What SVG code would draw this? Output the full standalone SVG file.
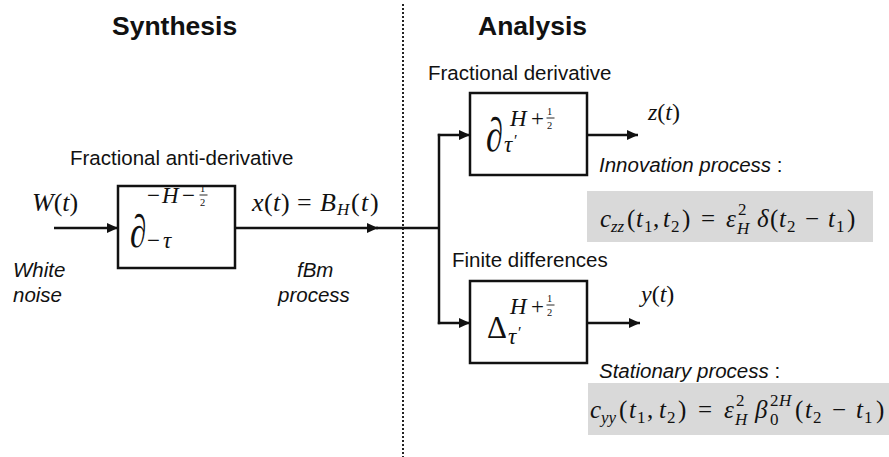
<svg xmlns="http://www.w3.org/2000/svg" width="889" height="457" viewBox="0 0 889 457">
<style>
.t{font-family:"Liberation Sans",Arial,sans-serif;font-size:20.5px;fill:#111}
.it{font-style:italic}
.h{font-family:"Liberation Sans",Arial,sans-serif;font-size:26.5px;font-weight:bold;fill:#111}
.m{font-family:"Liberation Serif","Times New Roman",serif;font-size:25px;fill:#111}
.s{font-size:23px}
.ss{font-size:17px}
.f{font-size:10.5px}
.p{font-size:16px}
.i{font-style:italic}
.box{fill:#fff;stroke:#111;stroke-width:2.5}
.gray{fill:#d9d9d9;stroke:none}
.ln{stroke:#111;stroke-width:2.5;fill:none}
.arr{stroke:#111;stroke-width:2.5;fill:none;marker-end:url(#ah)}
.bar{stroke:#111;stroke-width:0.9}
</style>
<defs>
<marker id="ah" markerUnits="userSpaceOnUse" markerWidth="11" markerHeight="10" refX="11" refY="5" orient="auto">
<path d="M0,0 L11,5 L0,10 z" fill="#111"/>
</marker>
</defs>

<g id="divider">
<line x1="403" y1="4" x2="403" y2="457" stroke="#222" stroke-width="2" stroke-dasharray="2 2"/>
</g>

<g id="titles">
<text class="h" x="112" y="35">Synthesis</text>
<text class="h" x="478" y="35">Analysis</text>
</g>

<g id="connectors">
<line class="arr" x1="54" y1="228" x2="118" y2="228"/>
<line class="arr" x1="235" y1="228" x2="378" y2="228"/>
<line class="ln" x1="376" y1="228" x2="440" y2="228"/>
<line class="ln" x1="439" y1="133.8" x2="439" y2="324.2"/>
<line class="arr" x1="437.8" y1="135" x2="470" y2="135"/>
<line class="arr" x1="437.8" y1="323" x2="470" y2="323"/>
<line class="arr" x1="587" y1="135" x2="638" y2="135"/>
<line class="arr" x1="587" y1="323" x2="640" y2="323"/>
</g>

<g id="input">
<text class="m" x="32" y="211" style="font-size:26px"><tspan class="i">W</tspan>(<tspan class="i">t</tspan>)</text>
<text class="t it" x="13" y="277">White</text>
<text class="t it" x="13" y="302">noise</text>
</g>

<g id="antiderivative">
<text class="t" x="70" y="165">Fractional anti-derivative</text>
<rect class="box" x="118" y="186" width="117" height="82"/>
<text class="m i" transform="translate(130,247) scale(1,1.4)" style="font-size:33px">∂</text>
<text class="m s"><tspan x="147" y="203">−</tspan><tspan class="i" x="162" y="203">H</tspan><tspan x="182" y="203">−</tspan></text>
<text class="m f" x="200" y="192">1</text>
<line class="bar" x1="199.5" y1="195" x2="207.5" y2="195"/>
<text class="m f" x="200" y="205.5">2</text>
<text class="m s"><tspan x="147" y="248">−</tspan><tspan class="i" x="163" y="248">τ</tspan></text>
</g>

<g id="fbm">
<text class="m" style="font-size:26px"><tspan class="i" x="252" y="211">x</tspan><tspan x="264" y="211">(</tspan><tspan class="i" x="273" y="211">t</tspan><tspan x="281" y="211">)</tspan><tspan x="297" y="211">=</tspan><tspan class="i" x="320" y="211">B</tspan><tspan class="i ss" x="337" y="215">H</tspan><tspan x="351" y="211">(</tspan><tspan class="i" x="361" y="211">t</tspan><tspan x="370" y="211">)</tspan></text>
<text class="t it" x="297" y="277">fBm</text>
<text class="t it" x="278" y="302">process</text>
</g>

<g id="derivative">
<text class="t" x="428" y="80">Fractional derivative</text>
<rect class="box" x="470" y="93" width="117" height="82"/>
<text class="m i" transform="translate(486,151) scale(1,1.4)" style="font-size:34px">∂</text>
<text class="m s"><tspan class="i" x="510" y="126">H</tspan><tspan x="531" y="126">+</tspan></text>
<text class="m f" x="547" y="115">1</text>
<line class="bar" x1="546.5" y1="118" x2="554.5" y2="118"/>
<text class="m f" x="547" y="128.5">2</text>
<text class="m s"><tspan class="i" x="504" y="152">τ</tspan><tspan class="p" x="514" y="146">′</tspan></text>
<text class="m" x="648" y="120" style="font-size:24px"><tspan class="i">z</tspan>(<tspan class="i">t</tspan>)</text>
</g>

<g id="innovation">
<text class="t" x="599" y="172"><tspan class="it">Innovation process</tspan> :</text>
<rect class="gray" x="587" y="191" width="286" height="51"/>
<text class="m"><tspan class="i" x="600" y="227">c</tspan><tspan class="i ss" x="611" y="232">zz</tspan><tspan x="627" y="227">(</tspan><tspan class="i" x="636" y="227">t</tspan><tspan class="ss" x="644" y="232">1</tspan><tspan x="653" y="227">,</tspan><tspan class="i" x="663" y="227">t</tspan><tspan class="ss" x="671" y="232">2</tspan><tspan x="682" y="227">)</tspan><tspan x="701" y="227">=</tspan><tspan class="i" x="726" y="227">ε</tspan><tspan class="ss" x="738" y="215">2</tspan><tspan class="i ss" x="737" y="234">H</tspan><tspan class="i" x="757" y="227">δ</tspan><tspan x="770" y="227">(</tspan><tspan class="i" x="779" y="227">t</tspan><tspan class="ss" x="787" y="232">2</tspan><tspan x="805" y="227">−</tspan><tspan class="i" x="828" y="227">t</tspan><tspan class="ss" x="836" y="232">1</tspan><tspan x="847" y="227">)</tspan></text>
</g>

<g id="differences">
<text class="t" x="452" y="267">Finite differences</text>
<rect class="box" x="470" y="281" width="117" height="82"/>
<text class="m" transform="translate(487,338) scale(1,1.05)" style="font-size:31px">Δ</text>
<text class="m s"><tspan class="i" x="510" y="314">H</tspan><tspan x="531" y="314">+</tspan></text>
<text class="m f" x="547" y="302">1</text>
<line class="bar" x1="546.5" y1="305" x2="554.5" y2="305"/>
<text class="m f" x="547" y="315.5">2</text>
<text class="m s"><tspan class="i" x="508" y="344">τ</tspan><tspan class="p" x="518" y="338">′</tspan></text>
<text class="m" x="641" y="302" style="font-size:24px"><tspan class="i">y</tspan>(<tspan class="i">t</tspan>)</text>
</g>

<g id="stationary">
<text class="t" x="599" y="378"><tspan class="it">Stationary process</tspan> :</text>
<rect class="gray" x="588" y="383" width="301" height="52"/>
<text class="m"><tspan class="i" x="590" y="418">c</tspan><tspan class="i ss" x="601" y="423">yy</tspan><tspan x="619" y="418">(</tspan><tspan class="i" x="629" y="418">t</tspan><tspan class="ss" x="637" y="423">1</tspan><tspan x="647" y="418">,</tspan><tspan class="i" x="659" y="418">t</tspan><tspan class="ss" x="667" y="423">2</tspan><tspan x="678" y="418">)</tspan><tspan x="698" y="418">=</tspan><tspan class="i" x="724" y="418">ε</tspan><tspan class="ss" x="736" y="406">2</tspan><tspan class="i ss" x="735" y="425">H</tspan><tspan class="i" x="755" y="418">β</tspan><tspan class="ss" x="770" y="425">0</tspan><tspan class="ss" x="770" y="406">2</tspan><tspan class="i ss" x="779" y="406">H</tspan><tspan x="795" y="418">(</tspan><tspan class="i" x="805" y="418">t</tspan><tspan class="ss" x="813" y="423">2</tspan><tspan x="832" y="418">−</tspan><tspan class="i" x="856" y="418">t</tspan><tspan class="ss" x="864" y="423">1</tspan><tspan x="876" y="418">)</tspan></text>
</g>
</svg>
